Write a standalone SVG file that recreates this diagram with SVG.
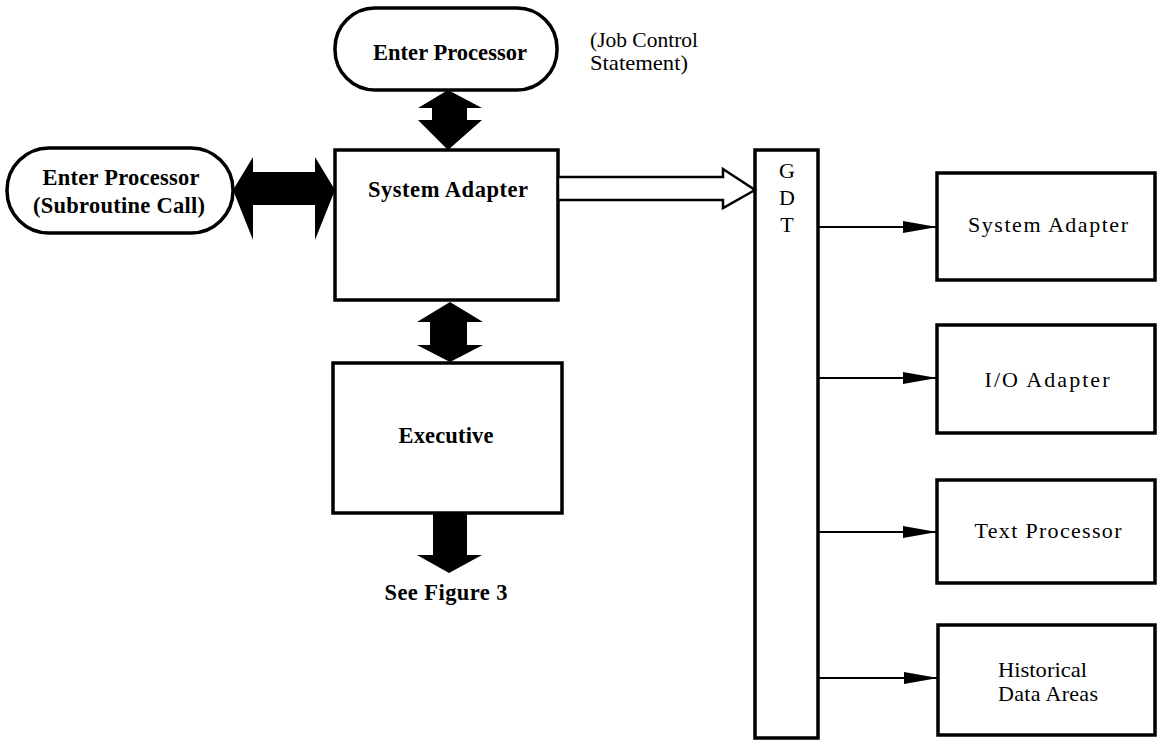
<svg xmlns="http://www.w3.org/2000/svg" width="1157" height="740" viewBox="0 0 1157 740">
<style>
.box{fill:#fff;stroke:#000;stroke-width:3.5}
.b{font-family:"Liberation Serif","Times New Roman",serif;font-weight:bold;font-size:22.5px;fill:#000}
.r{font-family:"Liberation Serif","Times New Roman",serif;font-size:22px;fill:#000}
.thin{stroke:#000;stroke-width:2.2;fill:none}
.fat{fill:#000;stroke:none}
</style>
<defs>
<marker id="ah" markerWidth="36" markerHeight="14" refX="34" refY="7" markerUnits="userSpaceOnUse" orient="auto">
<path d="M0,1 L34,7 L0,13 Z" fill="#000"/>
</marker>
</defs>
<rect width="1157" height="740" fill="#fff"/>

<g id="enter-processor-job">
<rect class="box" x="335" y="8" width="222" height="82" rx="40" ry="40"/>
<text class="b" x="450" y="60" text-anchor="middle" textLength="154" lengthAdjust="spacing">Enter Processor</text>
</g>
<g id="job-control-label">
<text class="r" x="590" y="47" font-size="20" textLength="108" lengthAdjust="spacingAndGlyphs">(Job Control</text>
<text class="r" x="590" y="70" font-size="20" textLength="98" lengthAdjust="spacingAndGlyphs">Statement)</text>
</g>
<g id="enter-processor-sub">
<rect class="box" x="7" y="148" width="226" height="85" rx="42" ry="42"/>
<text class="b" x="121" y="185" text-anchor="middle" textLength="157" lengthAdjust="spacing">Enter Processor</text>
<text class="b" x="119" y="213" text-anchor="middle" textLength="172" lengthAdjust="spacing">(Subroutine Call)</text>
</g>
<g id="system-adapter-main">
<rect class="box" x="335" y="150" width="223" height="150"/>
<text class="b" x="448" y="197" text-anchor="middle" textLength="160" lengthAdjust="spacing">System Adapter</text>
</g>
<g id="executive">
<rect class="box" x="333" y="363" width="229" height="150"/>
<text class="b" x="446" y="443" text-anchor="middle" textLength="95" lengthAdjust="spacing">Executive</text>
</g>
<g id="see-figure-label">
<text class="b" x="446" y="600" text-anchor="middle" textLength="123" lengthAdjust="spacing">See Figure 3</text>
</g>
<g id="gdt">
<rect class="box" x="755" y="150" width="63" height="588"/>
<text class="r" x="787" y="178" text-anchor="middle" font-size="24">G</text>
<text class="r" x="787" y="205" text-anchor="middle" font-size="24">D</text>
<text class="r" x="787" y="232" text-anchor="middle" font-size="24">T</text>
</g>
<g id="system-adapter-right">
<rect class="box" x="937" y="173" width="218" height="107"/>
<text class="r" x="1048" y="232" text-anchor="middle" textLength="160" lengthAdjust="spacing">System Adapter</text>
</g>
<g id="io-adapter">
<rect class="box" x="937" y="325" width="218" height="108"/>
<text class="r" x="1047" y="387" text-anchor="middle" textLength="125" lengthAdjust="spacing">I/O Adapter</text>
</g>
<g id="text-processor">
<rect class="box" x="937" y="480" width="218" height="103"/>
<text class="r" x="1048" y="538" text-anchor="middle" textLength="147" lengthAdjust="spacing">Text Processor</text>
</g>
<g id="historical-data-areas">
<rect class="box" x="938" y="625" width="217" height="110"/>
<text class="r" x="998" y="677" textLength="89" lengthAdjust="spacingAndGlyphs">Historical</text>
<text class="r" x="998" y="701" textLength="100" lengthAdjust="spacing">Data Areas</text>
</g>

<g id="connectors">
<polygon class="fat" points="233,190 253,157 253,172 315,172 315,157 335,190 315,240 315,205 253,205 253,240"/>
<polygon class="fat" points="448,90 482,108 467,108 467,120 482,120 448,150 418,120 432,120 432,108 418,108"/>
<polygon class="fat" points="450,302 483,322 467,322 467,345 483,345 450,362 417,345 430,345 430,322 417,322"/>
<polygon class="fat" points="433,513 467,513 467,555 482,555 449,573 417,555 433,555"/>
<polygon points="558,177 723,177 723,169 755,190 723,208 723,200 558,200" fill="#fff" stroke="#000" stroke-width="2.5" stroke-linejoin="miter"/>
<line class="thin" x1="818" y1="227" x2="937" y2="227" marker-end="url(#ah)"/>
<line class="thin" x1="818" y1="378" x2="937" y2="378" marker-end="url(#ah)"/>
<line class="thin" x1="818" y1="532" x2="937" y2="532" marker-end="url(#ah)"/>
<line class="thin" x1="818" y1="678" x2="938" y2="678" marker-end="url(#ah)"/>
</g>
</svg>
